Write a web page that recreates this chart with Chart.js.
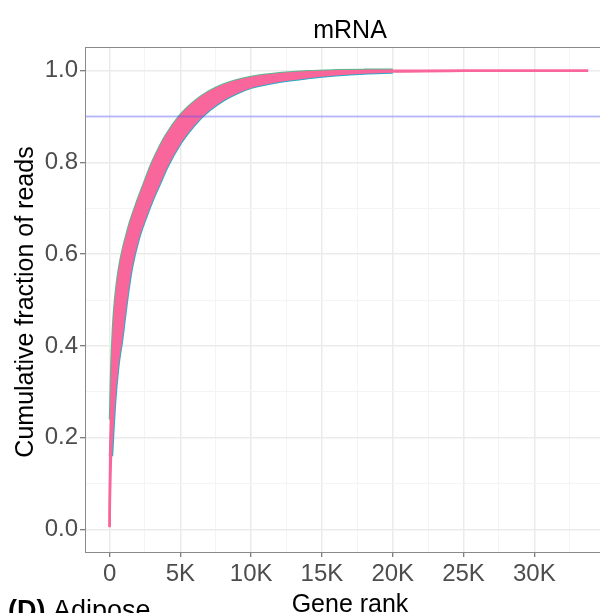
<!DOCTYPE html>
<html>
<head>
<meta charset="utf-8">
<script src="https://cdn.jsdelivr.net/npm/chart.js@4.4.0/dist/chart.umd.min.js"></script>
<style>
  html, body { margin: 0; padding: 0; background: #fff; }
  #wrap { width: 600px; height: 613px; }
</style>
</head>
<body>
<div id="wrap"><canvas id="c" width="600" height="613"></canvas></div>
<script>
const ranks = [1, 20, 50, 100, 200, 300, 400, 600, 800, 1000, 1250, 1500, 2000, 2500, 3000, 3500,
  4000, 5000, 6000, 7000, 8000, 9000, 10000, 12000, 14000, 16000, 18000, 20000, 25000, 30000, 33800];

// steepest sample (green edge of the band)
const fastSample = [0.007, 0.10, 0.17, 0.24, 0.36, 0.43, 0.48, 0.54, 0.58, 0.61, 0.64, 0.668, 0.713, 0.754,
  0.794, 0.827, 0.856, 0.90, 0.93, 0.952, 0.967, 0.977, 0.984, 0.992, 0.9965, 0.9985, 0.9995, 1.0, 1.0, 1.0, 1.0];

// flattest sample (cyan edge of the band)
const slowSample = [0.005, 0.06, 0.11, 0.16, 0.22, 0.27, 0.31, 0.37, 0.41, 0.46, 0.52, 0.57, 0.635, 0.68,
  0.72, 0.755, 0.79, 0.845, 0.885, 0.915, 0.937, 0.953, 0.965, 0.978, 0.986, 0.992, 0.996, 0.998, 0.9995, 1.0, 1.0];

const threshold = 0.9;

const xTicks = [0, 2500, 5000, 7500, 10000, 12500, 15000, 17500, 20000, 22500, 25000, 27500, 30000, 32500];
const yTicks = [0, 0.1, 0.2, 0.3, 0.4, 0.5, 0.6, 0.7, 0.8, 0.9, 1.0];

const xMin = -1736, xMax = 34640;
const yMin = -0.0487, yMax = 1.0515;

const pink = '#f8669b';
const font = '"Liberation Sans", Arial, sans-serif';

const toPoints = (vals, from, upTo) => ranks
  .map((r, i) => ({ x: r, y: vals[i] }))
  .filter(p => (from === undefined || p.x >= from) && (upTo === undefined || p.x <= upTo));

const isMajorX = v => v % 5000 === 0;
const isMajorY = v => Math.round(v * 10) % 2 === 0;

const textPlugin = {
  id: 'texts',
  afterDatasetsDraw(chart) {
    const { ctx, chartArea: a } = chart;
    ctx.save();
    ctx.strokeStyle = '#8a8a8a';
    ctx.lineWidth = 1;
    ctx.strokeRect(Math.round(a.left) + 0.5, Math.round(a.top) + 0.5, a.right - a.left + 10, a.bottom - a.top);
    ctx.restore();
  },
  afterDraw(chart) {
    const ctx = chart.ctx;
    ctx.save();
    ctx.fillStyle = '#000';
    ctx.textAlign = 'center';
    ctx.textBaseline = 'alphabetic';
    ctx.font = '25px ' + font;
    ctx.fillText('mRNA', 350, 38);
    ctx.fillText('Gene rank', 350, 612);

    ctx.save();
    ctx.translate(33, 302);
    ctx.rotate(-Math.PI / 2);
    ctx.fillText('Cumulative fraction of reads', 0, 0);
    ctx.restore();

    ctx.textAlign = 'left';
    ctx.font = 'bold 27px ' + font;
    ctx.fillText('(D)', 8, 619);
    const w = ctx.measureText('(D)').width;
    ctx.font = '27px ' + font;
    ctx.fillText(' Adipose', 8 + w, 619);
    ctx.restore();
  }
};

new Chart(document.getElementById('c'), {
  type: 'line',
  data: {
    datasets: [
      {
        label: 'threshold',
        data: [{ x: xMin, y: threshold }, { x: xMax, y: threshold }],
        borderColor: 'rgba(70, 70, 255, 0.35)',
        borderWidth: 2,
        order: 0
      },
      {
        label: 'fast (pink)',
        data: toPoints(fastSample),
        borderColor: pink,
        backgroundColor: pink,
        borderWidth: 2.5,
        fill: '+1',
        order: 1
      },
      {
        label: 'slow (pink)',
        data: toPoints(slowSample),
        borderColor: pink,
        borderWidth: 2.5,
        order: 1
      },
      {
        label: 'fast',
        data: toPoints(fastSample, 100, 20000),
        borderColor: '#5cb98c',
        borderWidth: 4.5,
        order: 3
      },
      {
        label: 'slow',
        data: toPoints(slowSample, 100, 20000),
        borderColor: '#27adc8',
        borderWidth: 4.5,
        order: 3
      }
    ]
  },
  options: {
    responsive: false,
    animation: false,
    devicePixelRatio: 1,
    parsing: false,
    layout: { padding: { top: 47, left: 0, right: 0, bottom: 0 } },
    elements: {
      point: { radius: 0 },
      line: { cubicInterpolationMode: 'monotone', fill: false }
    },
    plugins: {
      legend: { display: false },
      tooltip: { enabled: false },
      title: { display: false }
    },
    scales: {
      x: {
        type: 'linear',
        min: xMin,
        max: xMax,
        afterBuildTicks: s => { s.ticks = xTicks.map(v => ({ value: v })); },
        afterFit: s => { s.height = 61; },
        border: { display: false },
        grid: {
          color: c => isMajorX(c.tick.value) ? '#ebebeb' : '#f4f4f4',
          lineWidth: c => isMajorX(c.tick.value) ? 1.5 : 1,
          tickColor: c => isMajorX(c.tick.value) ? '#555' : 'rgba(0,0,0,0)',
          tickLength: 5,
          tickWidth: 1
        },
        ticks: {
          autoSkip: false,
          maxRotation: 0,
          padding: 3,
          color: '#4d4d4d',
          font: { family: font, size: 24 },
          callback: v => isMajorX(v) ? (v === 0 ? '0' : (v / 1000) + 'K') : ''
        }
      },
      y: {
        type: 'linear',
        min: yMin,
        max: yMax,
        afterBuildTicks: s => { s.ticks = yTicks.map(v => ({ value: v })); },
        afterFit: s => { s.width = 85; },
        border: { display: false },
        grid: {
          color: c => isMajorY(c.tick.value) ? '#ebebeb' : '#f4f4f4',
          lineWidth: c => isMajorY(c.tick.value) ? 1.5 : 1,
          tickColor: c => isMajorY(c.tick.value) ? '#555' : 'rgba(0,0,0,0)',
          tickLength: 5,
          tickWidth: 1
        },
        ticks: {
          autoSkip: false,
          padding: 2,
          color: '#4d4d4d',
          font: { family: font, size: 24 },
          callback: v => isMajorY(v) ? v.toFixed(1) : ''
        }
      }
    }
  },
  plugins: [textPlugin]
});
</script>
</body>
</html>
